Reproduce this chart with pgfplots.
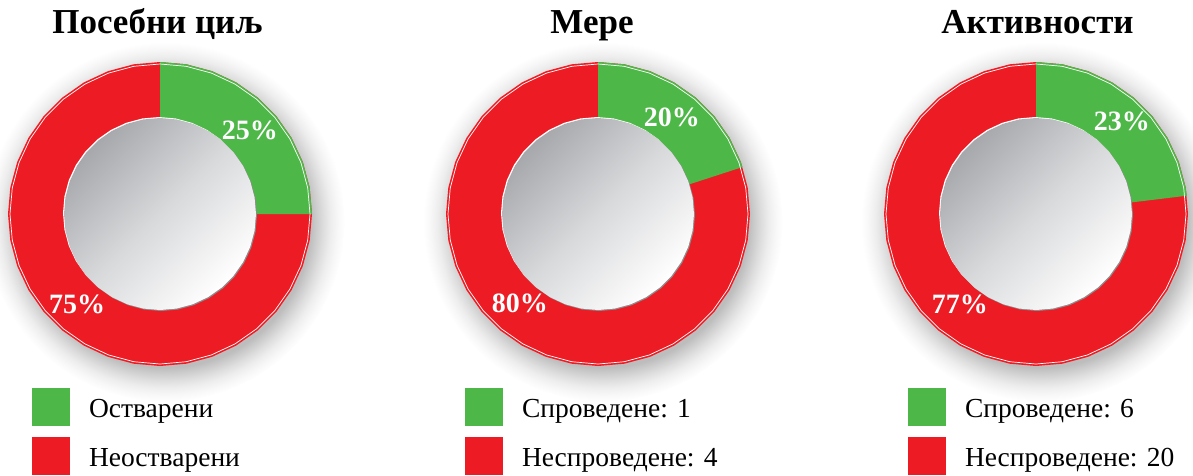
\documentclass[border=0pt]{standalone}
\usepackage{fontspec}
\setmainfont{Liberation Serif}
\usepackage{pgfplots}
\pgfplotsset{compat=1.18}
\usepackage{pgfplotstable}
\usepgfplotslibrary{polar}

\definecolor{cgreen}{RGB}{77,184,72}
\definecolor{cred}{RGB}{237,28,36}
\definecolor{discA}{RGB}{166,168,172}
\definecolor{discB}{RGB}{216,217,219}
\pgfdeclareradialshading{ringshadow}{\pgfpoint{0bp}{0bp}}{color(0bp)=(black!26); color(20.2bp)=(black!26); color(21bp)=(black!20); color(22bp)=(black!13); color(23bp)=(black!7); color(24bp)=(black!3); color(25bp)=(white); color(50bp)=(white)}

% circle outlines: angle, outer radius, white line, inner disc, shadow
\pgfplotstableread{
a R W I S
0 152 150 96 180
10 152 150 96 180
20 152 150 96 180
30 152 150 96 180
40 152 150 96 180
50 152 150 96 180
60 152 150 96 180
70 152 150 96 180
80 152 150 96 180
90 152 150 96 180
100 152 150 96 180
110 152 150 96 180
120 152 150 96 180
130 152 150 96 180
140 152 150 96 180
150 152 150 96 180
160 152 150 96 180
170 152 150 96 180
180 152 150 96 180
190 152 150 96 180
200 152 150 96 180
210 152 150 96 180
220 152 150 96 180
230 152 150 96 180
240 152 150 96 180
250 152 150 96 180
260 152 150 96 180
270 152 150 96 180
280 152 150 96 180
290 152 150 96 180
300 152 150 96 180
310 152 150 96 180
320 152 150 96 180
330 152 150 96 180
340 152 150 96 180
350 152 150 96 180
360 152 150 96 180
}\ringtab

\pgfplotsset{
  donut/.style={hide axis, scale only axis, width=344pt, height=344pt,
    xmin=0, xmax=360, ymin=0, ymax=172, clip=false, anchor=center,
    legend style={at={(0.12791,-0.00581)}, anchor=north west, draw=none, fill=none,
      inner sep=0pt, outer sep=0pt, row sep=11pt, column sep=19pt,
      font=\fontsize{27.5}{30}\selectfont, cells={anchor=base west},
      nodes={inner sep=0pt}},
    legend image code/.code={\fill[##1, draw=none] (0pt,-9pt) rectangle (38pt,29pt);}
  }
}
\tikzset{pct/.style={font=\bfseries\fontsize{28}{30}\selectfont, text=white, inner sep=0pt}}

\newcommand{\donutback}{%
  \addplot[forget plot, draw=none, shading=ringshadow, xshift=5pt, yshift=-8pt] table[x=a,y=S]{\ringtab};
  \addplot[forget plot, draw=none, fill=cred] table[x=a,y=R]{\ringtab};
}
\newcommand{\donutfront}{%
  \addplot[forget plot, draw=white, line width=0.7pt] table[x=a,y=W]{\ringtab};
  \addplot[forget plot, draw=none, fill=white, xshift=-1pt, yshift=1pt] table[x=a,y=I]{\ringtab};
  \addplot[forget plot, draw=none, fill=black!45, xshift=1pt, yshift=-1pt] table[x=a,y=I]{\ringtab};
  \addplot[forget plot, draw=none, top color=discA, bottom color=white, middle color=discB, shading angle=45] table[x=a,y=I]{\ringtab};
}

\begin{document}
\begin{tikzpicture}
\path[use as bounding box] (0pt,0pt) rectangle (1193pt,-475pt);

\node[anchor=base, font=\bfseries\fontsize{35}{38}\selectfont, inner sep=0pt] at (157.5pt,-33pt) {Посебни циљ};
\node[anchor=base, font=\bfseries\fontsize{35}{38}\selectfont, inner sep=0pt] at (592pt,-33pt) {Мере};
\node[anchor=base, font=\bfseries\fontsize{35}{38}\selectfont, inner sep=0pt] at (1037.5pt,-33pt) {Активности};

% Chart 1: ostvareni 1 (25%), neostvareni 3 (75%)
\begin{polaraxis}[donut, at={(160pt,-214pt)}]
\donutback
\addplot[forget plot, draw=none, fill=cgreen] coordinates {(0,0) (90,152) (80,152) (70,152) (60,152) (50,152) (40,152) (30,152) (20,152) (10,152) (0,152)};
\donutfront
\node[pct] at (axis cs:43,123) {25\%};
\node[pct] at (axis cs:227.6,123) {75\%};
\addlegendimage{fill=cgreen}\addlegendentry{Остварени}
\addlegendimage{fill=cred}\addlegendentry{Неостварени}
\end{polaraxis}

% Chart 2: 1 of 5 (20%)
\begin{polaraxis}[donut, at={(598pt,-214pt)}, legend style={at={(0.11337,-0.00581)}}]
\donutback
\addplot[forget plot, draw=none, fill=cgreen] coordinates {(0,0) (90,152) (80,152) (70,152) (60,152) (50,152) (40,152) (30,152) (20,152) (18,152)};
\donutfront
\node[pct] at (axis cs:52.7,122) {20\%};
\node[pct] at (axis cs:229,119) {80\%};
\addlegendimage{fill=cgreen}\addlegendentry{Спроведене: 1}
\addlegendimage{fill=cred}\addlegendentry{Неспроведене: 4}
\end{polaraxis}

% Chart 3: 6 of 26 (23%)
\begin{polaraxis}[donut, at={(1036pt,-214pt)}]
\donutback
\addplot[forget plot, draw=none, fill=cgreen] coordinates {(0,0) (90,152) (80,152) (70,152) (60,152) (50,152) (40,152) (30,152) (20,152) (10,152) (6.92,152)};
\donutfront
\node[pct] at (axis cs:47,126) {23\%};
\node[pct] at (axis cs:229.8,118) {77\%};
\addlegendimage{fill=cgreen}\addlegendentry{Спроведене: 6}
\addlegendimage{fill=cred}\addlegendentry{Неспроведене: 20}
\end{polaraxis}
\end{tikzpicture}
\end{document}
